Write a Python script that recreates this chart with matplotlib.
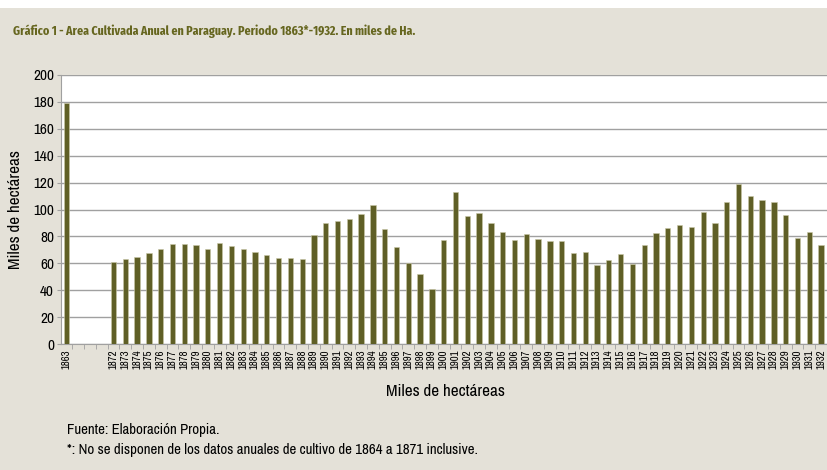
import numpy as np
import matplotlib
matplotlib.use("Agg")
import matplotlib.pyplot as plt
from matplotlib import font_manager as fm

# ── Data (miles de ha) ─────────────────────────────────────────────────
first_year = ["1863"]
first_value = [179]
gap_slots = 3  # 1864-1871 sin datos
years = [str(y) for y in range(1872, 1933)]
values = [61, 63, 64.6, 67.6, 70.5, 74.5, 74.5, 73.5, 70.5, 75.2,
          73, 70.5, 68.3, 66, 63.9, 63.9, 63.1, 81.2, 90.1, 91.6,
          93, 96.8, 103, 85.6, 72, 60.1, 51.7, 41.1, 77.5, 112.9,
          95.5, 97.5, 90.1, 83.4, 77.5, 81.9, 78.2, 76.7, 76.7, 67.8,
          68.6, 58.4, 62.4, 66.8, 59.4, 73.8, 82.7, 86.4, 88.6, 87.1,
          98.3, 90.1, 105.9, 119.3, 110.4, 107.4, 105.9, 96, 78.7, 83.4,
          73.8]

labels = first_year + [""] * gap_slots + years
heights = first_value + [np.nan] * gap_slots + values

BG = "#e4e1d8"
OLIVE = "#5f5f26"
TITLE_C = "#66661f"


# ── Fonts: use a narrow family when one is installed ──────────────────
def _w(f):
    w = f.weight
    return w if isinstance(w, (int, float)) else fm.weight_dict.get(w, 400)


narrow = [f for f in fm.fontManager.ttflist
          if "condensed" in f.name.lower() or "narrow" in f.name.lower()]
plain = [f.name for f in narrow if not any(k in f.name.lower() for k in ("extra", "semi"))]
body_names = plain or [f.name for f in narrow]
bold_names = [f.name for f in narrow if _w(f) >= 600]
bold_extra = [n for n in bold_names if "extra" in n.lower()]
BODY = body_names[:1] + ["Liberation Sans", "DejaVu Sans"]
TITLE = (bold_extra or bold_names)[:1] + BODY

plt.rcParams['font.family'] = BODY

fig = plt.figure(figsize=(8.27, 4.70), dpi=100)
fig.patch.set_facecolor(BG)
# white strip at top
fig.patches.append(plt.Rectangle((0, 1 - 8 / 470), 1, 8 / 470, transform=fig.transFigure,
                                 facecolor="white", edgecolor="none", zorder=0))

ax = fig.add_axes([61 / 827, 1 - 344 / 470, 766 / 827, (344 - 75) / 470])
ax.set_facecolor("white")

x = np.arange(len(labels))
ax.bar(x, heights, width=0.45, color=OLIVE, edgecolor="#c9c8a8", linewidth=0.4, zorder=3)

ax.set_xlim(-0.45, len(labels) - 0.5)
ax.set_ylim(0, 200)
ax.set_yticks(np.arange(0, 201, 20))
ax.yaxis.grid(True, color="#a0a0a0", linewidth=1.0, zorder=0)
ax.set_axisbelow(True)

ax.set_xticks(x)
ax.set_xticklabels(labels, rotation=90, fontsize=7.8)
ax.set_xticks(np.arange(0.5, len(labels) - 1, 1), minor=True)
ax.tick_params(axis="x", which="major", length=0, pad=4)
ax.tick_params(axis="x", which="minor", length=3.5, color="#a0a0a0", direction="out")
ax.tick_params(axis="y", length=3, color="#a0a0a0", labelsize=11, pad=2)

for side in ["top", "right"]:
    ax.spines[side].set_visible(False)
ax.spines["left"].set_color("#a0a0a0")
ax.spines["bottom"].set_color("#a0a0a0")

ax.set_ylabel("Miles de hectáreas", fontsize=12.3)
ax.yaxis.set_label_coords(-38 / 766, 0.5)

fig.text(445 / 827, 1 - 391 / 470, "Miles de hectáreas", ha="center", va="center", fontsize=12.3)

fig.text(13 / 827, 1 - 31 / 470,
         "Gráfico 1 - Area Cultivada Anual en Paraguay. Periodo 1863*-1932. En miles de Ha.",
         ha="left", va="center", fontsize=9.3, color=TITLE_C, fontweight="bold",
         family=TITLE)

fig.text(67 / 827, 1 - 430 / 470, "Fuente: Elaboración Propia.", ha="left", va="center", fontsize=10.7)
fig.text(67 / 827, 1 - 450 / 470,
         "*: No se disponen de los datos anuales de cultivo de 1864 a 1871 inclusive.",
         ha="left", va="center", fontsize=10.7)

fig.savefig("out.png", dpi=100, facecolor=BG)
